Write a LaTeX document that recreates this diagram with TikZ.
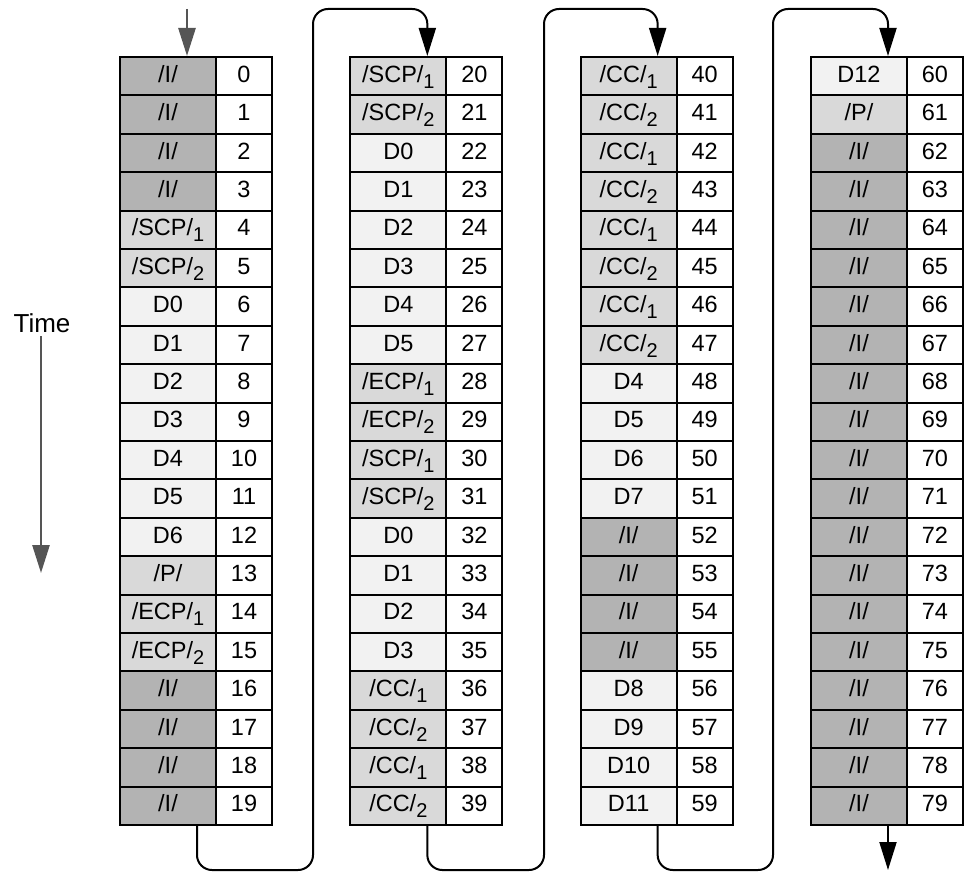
\documentclass[tikz,border=0pt]{standalone}
\usepackage{fontspec}
\setmainfont{Liberation Sans}
\usetikzlibrary{arrows.meta}

\definecolor{idlegray}{HTML}{B3B3B3}
\definecolor{ctrlgray}{HTML}{D9D9D9}
\definecolor{datagray}{HTML}{F2F2F2}
\definecolor{arrowgray}{HTML}{555555}

\newcommand{\Idle}{/I/}
\newcommand{\Pad}{/P/}
\newcommand{\lowsub}[1]{\raisebox{-6pt}{\fontsize{20}{20}\selectfont #1}}
\newcommand{\Scp}[1]{/SCP/\lowsub{#1}}
\newcommand{\Ecp}[1]{/ECP/\lowsub{#1}}
\newcommand{\Cc}[1]{/CC/\lowsub{#1}}

\begin{document}
\begin{tikzpicture}[x=1pt,y=-1pt,
  every node/.style={font=\fontsize{23.5}{23.5}\selectfont},
  cell/.style={draw, line width=2pt, minimum height=38.4pt, inner sep=0pt, text height=17pt, text depth=5pt},
  labcell/.style={cell, minimum width=96pt},
  numcell/.style={cell, minimum width=56pt, fill=white},
  idlecell/.style={fill=idlegray},
  ctrlcell/.style={fill=ctrlgray},
  datacell/.style={fill=datagray},
  flow/.style={line width=2pt, rounded corners=15pt, -{Triangle[length=28pt,width=17pt]}},
  timeline/.style={draw=arrowgray, line width=2.6pt, -{Triangle[length=28pt,width=17pt]}}]
\useasboundingbox (0,0) rectangle (966,872);

\foreach \kind/\txt [count=\n from 0] in {
  idlecell/\Idle, idlecell/\Idle, idlecell/\Idle, idlecell/\Idle,
  ctrlcell/\Scp1, ctrlcell/\Scp2,
  datacell/D0, datacell/D1, datacell/D2, datacell/D3, datacell/D4, datacell/D5, datacell/D6,
  ctrlcell/\Pad, ctrlcell/\Ecp1, ctrlcell/\Ecp2,
  idlecell/\Idle, idlecell/\Idle, idlecell/\Idle, idlecell/\Idle,
  ctrlcell/\Scp1, ctrlcell/\Scp2,
  datacell/D0, datacell/D1, datacell/D2, datacell/D3, datacell/D4, datacell/D5,
  ctrlcell/\Ecp1, ctrlcell/\Ecp2, ctrlcell/\Scp1, ctrlcell/\Scp2,
  datacell/D0, datacell/D1, datacell/D2, datacell/D3,
  ctrlcell/\Cc1, ctrlcell/\Cc2, ctrlcell/\Cc1, ctrlcell/\Cc2,
  ctrlcell/\Cc1, ctrlcell/\Cc2, ctrlcell/\Cc1, ctrlcell/\Cc2,
  ctrlcell/\Cc1, ctrlcell/\Cc2, ctrlcell/\Cc1, ctrlcell/\Cc2,
  datacell/D4, datacell/D5, datacell/D6, datacell/D7,
  idlecell/\Idle, idlecell/\Idle, idlecell/\Idle, idlecell/\Idle,
  datacell/D8, datacell/D9, datacell/D10, datacell/D11,
  datacell/D12, ctrlcell/\Pad,
  idlecell/\Idle, idlecell/\Idle, idlecell/\Idle, idlecell/\Idle, idlecell/\Idle, idlecell/\Idle,
  idlecell/\Idle, idlecell/\Idle, idlecell/\Idle, idlecell/\Idle, idlecell/\Idle, idlecell/\Idle,
  idlecell/\Idle, idlecell/\Idle, idlecell/\Idle, idlecell/\Idle, idlecell/\Idle, idlecell/\Idle} {
  \pgfmathtruncatemacro{\col}{\n/20}
  \pgfmathtruncatemacro{\row}{mod(\n,20)}
  \node[labcell,\kind] (c\n) at ({168+230.33*\col},{76.2+38.4*\row}) {\txt};
  \node[numcell] (n\n) at ({244+230.33*\col},{76.2+38.4*\row}) {\n};
}

% feed in and time axis
\coordinate (feed) at (187,9);
\draw[timeline] (feed) -- (feed |- c0.north);
\node[font=\fontsize{26}{26}\selectfont] (time) at (42,323) {Time};
\coordinate (timeend) at (41,573);
\draw[timeline] (time.south -| timeend) -- (timeend);

% wrap from one column to the next
\foreach \a/\b/\x in {19/20/313, 39/40/544, 59/60/773} {
  \coordinate (out) at ([xshift=29pt]c\a.south);
  \coordinate (in) at ([xshift=29pt]c\b.north);
  \draw[flow] (out) |- (\x,870) |- (in |- 0,9) -- (in);
}
\coordinate (out) at ([xshift=29pt]c79.south);
\draw[flow] (out) -- (out |- 0,870);
\end{tikzpicture}
\end{document}
